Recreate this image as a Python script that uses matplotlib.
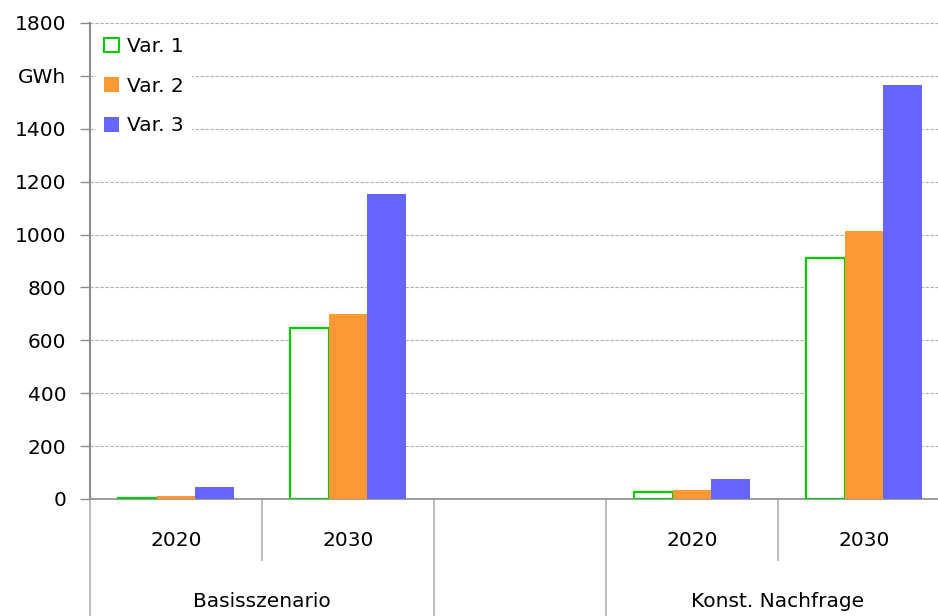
import matplotlib.pyplot as plt
from matplotlib.patches import Patch
from matplotlib.lines import Line2D

# data (GWh)
years = ['2020', '2030', '', '2020', '2030']
groups = ['Basisszenario', 'Konst. Nachfrage']
var1 = [5, 647, 0, 26, 913]
var2 = [13, 700, 0, 34, 1013]
var3 = [44, 1153, 0, 74, 1566]
series_names = ['Var. 1', 'Var. 2', 'Var. 3']
yticks = [0, 200, 400, 600, 800, 1000, 1200, 1400, 1600, 1800]
ytick_labels = ['0', '200', '400', '600', '800', '1000', '1200', '1400', 'GWh', '1800']

green = '#00cc00'
orange = '#ff9933'
blue = '#6666ff'
axis_grey = '#8c8c8c'

plt.rcParams['font.family'] = ['DejaVu Sans']
fig = plt.figure(figsize=(9.38, 6.16), dpi=100)
ax = fig.add_axes([90/938, 117/616, 860/938, 476/616])

x = list(range(len(years)))
w = 0.225
empty = [i for i, y in enumerate(years) if y == '']
xs = [i for i in x if i not in empty]

def pick(vals):
    return [vals[i] for i in xs]

ax.bar([i - w for i in xs], pick(var1), w, facecolor='white', edgecolor=green,
       linewidth=1.6, zorder=3)
ax.bar(xs, pick(var2), w, color=orange, zorder=3)
ax.bar([i + w for i in xs], pick(var3), w, color=blue, zorder=3)

ax.set_xlim(-0.5, len(years) - 0.5)
ax.set_ylim(0, 1800)
ax.set_yticks(yticks)
ax.set_yticklabels(ytick_labels)
ax.tick_params(axis='y', labelsize=14.5, length=7, width=1, color=axis_grey, pad=10)
ax.set_xticks([])
ax.yaxis.grid(True, color='#b0b0b0', linestyle=(0, (3, 1.5)), linewidth=0.8)
ax.set_axisbelow(True)

for s in ['top', 'right']:
    ax.spines[s].set_visible(False)
ax.spines['left'].set_color(axis_grey)
ax.spines['left'].set_linewidth(1.5)
ax.spines['bottom'].set_color(axis_grey)
ax.spines['bottom'].set_linewidth(1.2)

# multi-level category axis
trans = ax.get_xaxis_transform()
for i, y in enumerate(years):
    if y:
        ax.text(i, -0.088, y, transform=trans, ha='center', va='center', fontsize=14.5)
# short separators between years of a group, long ones between groups
short_sep = [0.5, 3.5]
long_sep = [-0.5, 1.5, 2.5, 4.5]
for s in short_sep:
    ax.add_line(Line2D([s, s], [0, -0.128], transform=trans, color='#b0b0b0',
                       linewidth=1.2, clip_on=False))
for s in long_sep:
    ax.add_line(Line2D([s, s], [0, -0.3], transform=trans, color='#b0b0b0',
                       linewidth=1.2, clip_on=False))
group_centers = [0.5, 3.5]
for c, g in zip(group_centers, groups):
    ax.text(c, -0.216, g, transform=trans, ha='center', va='center', fontsize=14.5)

handles = [Patch(facecolor='white', edgecolor=green, linewidth=1.5),
           Patch(facecolor=orange), Patch(facecolor=blue)]
leg = ax.legend(handles, series_names, loc='upper left', bbox_to_anchor=(0.0, 1.0),
                frameon=True, fontsize=14.5, handlelength=0.75, handleheight=0.75,
                handletextpad=0.4, labelspacing=1.02, borderaxespad=0.3)
leg.get_frame().set_edgecolor('none')
leg.get_frame().set_facecolor('white')
leg.get_frame().set_alpha(1)

fig.savefig('out.png', dpi=100)
